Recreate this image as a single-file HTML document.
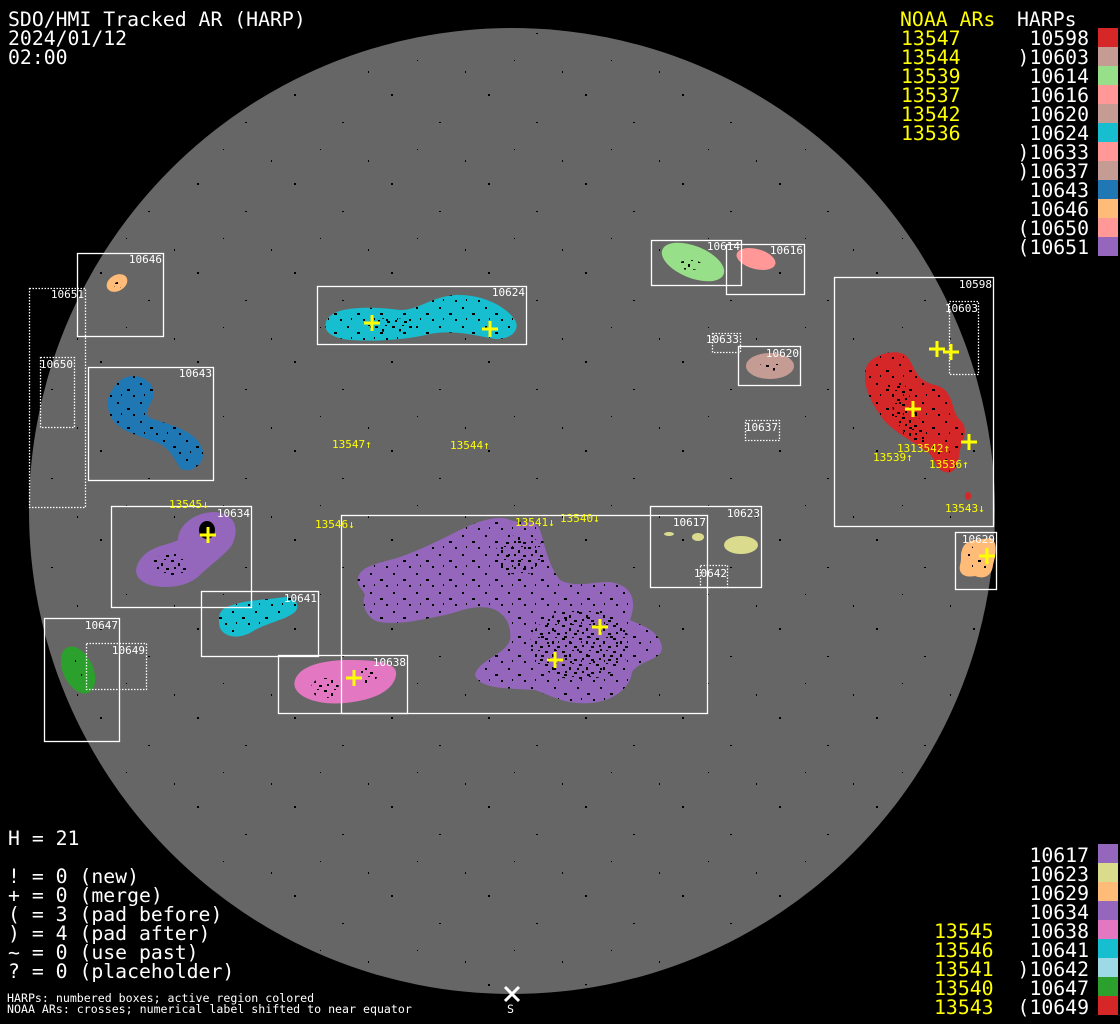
<!DOCTYPE html>
<html><head><meta charset="utf-8"><style>
html,body{margin:0;padding:0;background:#000;}
body{width:1120px;height:1024px;overflow:hidden;position:relative;}
svg{position:absolute;left:0;top:0;}
text{font-family:"DejaVu Sans Mono","Liberation Mono",monospace;}
</style></head><body>
<svg width="1120" height="1024" viewBox="0 0 1120 1024" xmlns="http://www.w3.org/2000/svg">
<defs>
<pattern id="sp" width="97" height="89" patternUnits="userSpaceOnUse">
<rect x="3" y="5" width="2" height="2" fill="#000"/><rect x="51" y="33" width="2" height="1" fill="#000"/><rect x="77" y="71" width="1" height="2" fill="#000"/><rect x="29" y="60" width="1" height="1" fill="#000"/>
</pattern>
<pattern id="dn" width="17" height="13" patternUnits="userSpaceOnUse">
<rect x="1" y="1" width="3" height="2" fill="#000"/><rect x="8" y="4" width="2" height="3" fill="#000"/><rect x="13" y="9" width="3" height="2" fill="#000"/><rect x="4" y="8" width="2" height="2" fill="#000"/><rect x="11" y="0" width="2" height="1" fill="#000"/>
</pattern>
<pattern id="md" width="23" height="19" patternUnits="userSpaceOnUse">
<rect x="2" y="3" width="2" height="2" fill="#000"/><rect x="12" y="9" width="3" height="2" fill="#000"/><rect x="18" y="15" width="2" height="2" fill="#000"/><rect x="6" y="14" width="1" height="2" fill="#000"/>
</pattern>
</defs>
<rect width="1120" height="1024" fill="#000"/>
<circle cx="512" cy="511" r="483" fill="#666"/>
<circle cx="512" cy="511" r="480" fill="url(#sp)"/>

<!-- blobs -->
<ellipse cx="117" cy="283" rx="11" ry="8" transform="rotate(-30 117 283)" fill="#ffbb78"/>
<path d="M115,386 C125,370 150,375 153,390 C156,405 140,410 150,418 C170,425 195,430 202,448 C208,465 188,475 180,468 C172,455 168,445 150,440 C130,433 115,428 110,415 C105,402 108,395 115,386Z" fill="#1f77b4"/>
<path d="M326,322 C330,308 360,305 400,310 C420,310 430,297 455,295 C480,294 505,305 515,320 C522,333 505,342 490,338 C470,334 450,330 430,334 C410,339 380,342 350,340 C332,338 323,332 326,322Z" fill="#17becf"/>
<ellipse cx="693" cy="262" rx="33" ry="16" transform="rotate(22 693 262)" fill="#98df8a"/>
<ellipse cx="756" cy="259" rx="20" ry="10" transform="rotate(15 756 259)" fill="#ff9896"/>
<ellipse cx="770" cy="366" rx="24" ry="13" fill="#c49c94"/>
<path d="M866,368 C870,355 895,348 905,355 C915,362 912,380 935,385 C955,390 950,410 960,420 C970,430 962,440 960,450 C958,465 955,475 945,472 C935,470 935,455 925,450 C910,440 890,430 880,415 C870,400 862,385 866,368Z" fill="#d62728"/>
<ellipse cx="968" cy="496" rx="3" ry="4" fill="#d62728"/>
<path d="M962,550 C965,538 980,540 990,538 C998,540 996,555 993,565 C992,575 985,580 975,576 C965,578 958,574 960,565 C962,558 960,555 962,550Z" fill="#ffbb78"/>
<path d="M140,560 C150,545 170,545 178,540 C178,525 195,512 215,512 C235,514 240,528 232,545 C225,555 210,565 200,575 C190,585 170,590 150,585 C135,580 133,570 140,560Z" fill="#9467bd"/>
<path d="M225,608 C240,600 265,600 285,597 C295,597 301,605 295,612 C285,620 270,622 255,630 C240,640 225,638 220,628 C218,620 218,612 225,608Z" fill="#17becf"/>
<ellipse cx="78" cy="670" rx="15" ry="25" transform="rotate(-25 78 670)" fill="#2ca02c"/>
<path d="M295,680 C300,665 325,660 350,660 C375,660 398,662 396,675 C394,690 375,700 345,703 C315,706 290,695 295,680Z" fill="#e377c2"/>
<path d="M358,578 C360,565 385,562 400,557 C420,550 440,540 460,530 C480,520 500,515 510,520 C525,525 535,518 540,530 C545,545 548,565 560,580 C575,588 590,582 610,582 C630,585 638,598 630,620 C640,625 660,630 662,648 C662,660 640,660 632,672 C630,690 610,702 590,703 C565,705 550,695 535,690 C510,688 480,690 475,675 C478,660 505,655 510,640 C512,625 505,612 490,608 C470,605 460,612 445,615 C420,620 400,625 380,622 C368,620 360,605 365,595 C362,588 356,585 358,578Z" fill="#9467bd"/>
<ellipse cx="741" cy="545" rx="17" ry="9" fill="#dbdb8d"/>
<ellipse cx="669" cy="534" rx="5" ry="2" fill="#dbdb8d"/>
<ellipse cx="698" cy="537" rx="6" ry="4" fill="#dbdb8d"/>

<!-- speckled magnetic structure -->
<ellipse cx="118" cy="285" rx="4" ry="3" fill="url(#dn)"/>
<path d="M115,386 C125,370 150,375 153,390 C156,405 140,410 150,418 C170,425 195,430 202,448 C208,465 188,475 180,468 C172,455 168,445 150,440 C130,433 115,428 110,415 C105,402 108,395 115,386Z" fill="url(#md)"/>
<path d="M326,322 C330,308 360,305 400,310 C420,310 430,297 455,295 C480,294 505,305 515,320 C522,333 505,342 490,338 C470,334 450,330 430,334 C410,339 380,342 350,340 C332,338 323,332 326,322Z" fill="url(#md)"/>
<ellipse cx="390" cy="325" rx="25" ry="7" fill="url(#dn)"/>
<ellipse cx="690" cy="265" rx="12" ry="5" fill="url(#dn)"/>
<ellipse cx="770" cy="366" rx="10" ry="5" fill="url(#dn)"/>
<path d="M866,368 C870,355 895,348 905,355 C915,362 912,380 935,385 C955,390 950,410 960,420 C970,430 962,440 960,450 C958,465 955,475 945,472 C935,470 935,455 925,450 C910,440 890,430 880,415 C870,400 862,385 866,368Z" fill="url(#md)"/>
<path d="M888,385 L905,385 L920,420 L925,440 L910,440 L895,420Z" fill="url(#dn)"/>
<ellipse cx="976" cy="560" rx="12" ry="14" fill="url(#md)"/>
<ellipse cx="207" cy="530" rx="8" ry="9" fill="#000"/>
<ellipse cx="170" cy="565" rx="18" ry="12" fill="url(#dn)"/>
<path d="M225,608 C240,600 265,600 285,597 C295,597 301,605 295,612 C285,620 270,622 255,630 C240,640 225,638 220,628 C218,620 218,612 225,608Z" fill="url(#md)"/>
<ellipse cx="325" cy="688" rx="14" ry="10" fill="url(#dn)"/>
<ellipse cx="367" cy="676" rx="10" ry="8" fill="url(#dn)"/>
<ellipse cx="78" cy="668" rx="5" ry="12" fill="url(#md)"/>
<path d="M358,578 C360,565 385,562 400,557 C420,550 440,540 460,530 C480,520 500,515 510,520 C525,525 535,518 540,530 C545,545 548,565 560,580 C575,588 590,582 610,582 C630,585 638,598 630,620 C640,625 660,630 662,648 C662,660 640,660 632,672 C630,690 610,702 590,703 C565,705 550,695 535,690 C510,688 480,690 475,675 C478,660 505,655 510,640 C512,625 505,612 490,608 C470,605 460,612 445,615 C420,620 400,625 380,622 C368,620 360,605 365,595 C362,588 356,585 358,578Z" fill="url(#md)"/>
<ellipse cx="580" cy="645" rx="50" ry="35" fill="url(#dn)"/>
<ellipse cx="520" cy="555" rx="25" ry="20" fill="url(#dn)"/>

<!-- boxes -->
<g fill="none" stroke="#fff" stroke-width="1.3">
<rect x="77.5" y="253.5" width="86" height="83"/>
<rect x="88.5" y="367.5" width="125" height="113"/>
<rect x="317.5" y="286.5" width="209" height="58"/>
<rect x="651.5" y="240.5" width="90" height="45"/>
<rect x="726.5" y="244.5" width="78" height="50"/>
<rect x="738.5" y="346.5" width="62" height="39"/>
<rect x="834.5" y="277.5" width="159" height="249"/>
<rect x="955.5" y="532.5" width="41" height="57"/>
<rect x="111.5" y="506.5" width="140" height="101"/>
<rect x="201.5" y="591.5" width="117" height="65"/>
<rect x="44.5" y="618.5" width="75" height="123"/>
<rect x="278.5" y="655.5" width="129" height="58"/>
<rect x="341.5" y="515.5" width="366" height="198"/>
<rect x="650.5" y="506.5" width="111" height="81"/>
</g>
<g fill="none" stroke="#fff" stroke-width="1.3" stroke-dasharray="1.5 1.5">
<rect x="29.5" y="288.5" width="56" height="219"/>
<rect x="40.5" y="357.5" width="34" height="70"/>
<rect x="712.5" y="333.5" width="28" height="19"/>
<rect x="745.5" y="420.5" width="34" height="20"/>
<rect x="949.5" y="301.5" width="29" height="73"/>
<rect x="86.5" y="643.5" width="60" height="46"/>
<rect x="700.5" y="565.5" width="27" height="22"/>
</g>

<!-- box labels -->
<g fill="#fff" font-size="11" text-anchor="end">
<text x="162" y="263">10646</text>
<text x="84" y="298">10651</text>
<text x="73" y="368">10650</text>
<text x="212" y="377">10643</text>
<text x="525" y="296">10624</text>
<text x="740" y="250">10614</text>
<text x="803" y="254">10616</text>
<text x="739" y="343">10633</text>
<text x="799" y="357">10620</text>
<text x="778" y="431">10637</text>
<text x="992" y="288">10598</text>
<text x="978" y="312">10603</text>
<text x="995" y="543">10629</text>
<text x="250" y="517">10634</text>
<text x="317" y="602">10641</text>
<text x="118" y="629">10647</text>
<text x="145" y="654">10649</text>
<text x="406" y="666">10638</text>
<text x="706" y="526">10617</text>
<text x="760" y="517">10623</text>
<text x="727" y="577">10642</text>
</g>

<!-- crosses -->
<g stroke="#ff0" stroke-width="3">
<path d="M364,323h16M372,315v16"/>
<path d="M482,329h16M490,321v16"/>
<path d="M200,535h16M208,527v16"/>
<path d="M346,678h16M354,670v16"/>
<path d="M547,660h16M555,652v16"/>
<path d="M592,627h16M600,619v16"/>
<path d="M929,349h16M937,341v16"/>
<path d="M943,352h16M951,344v16"/>
<path d="M905,409h16M913,401v16"/>
<path d="M961,442h16M969,434v16"/>
<path d="M979,556h16M987,548v16"/>
</g>

<!-- NOAA labels -->
<g fill="#ff0" font-size="11">
<text x="332" y="448">13547↑</text>
<text x="450" y="449">13544↑</text>
<text x="169" y="508">13545↓</text>
<text x="315" y="528">13546↓</text>
<text x="515" y="526">13541↓</text>
<text x="560" y="522">13540↓</text>
<text x="897" y="452">1313542↑</text>
<text x="873" y="461">13539↑</text>
<text x="929" y="468">13536↑</text>
<text x="945" y="512">13543↓</text>
</g>

<!-- header -->
<g fill="#fff" font-size="19.8">
<text x="8" y="26">SDO/HMI Tracked AR (HARP)</text>
<text x="8" y="45">2024/01/12</text>
<text x="8" y="64">02:00</text>
<text x="8" y="845">H = 21</text>
<text x="8" y="883">! = 0 (new)</text>
<text x="8" y="902">+ = 0 (merge)</text>
<text x="8" y="921">( = 3 (pad before)</text>
<text x="8" y="940">) = 4 (pad after)</text>
<text x="8" y="959">~ = 0 (use past)</text>
<text x="8" y="978">? = 0 (placeholder)</text>
</g>
<g fill="#fff" font-size="11.6">
<text x="7" y="1002">HARPs: numbered boxes; active region colored</text>
<text x="7" y="1013">NOAA ARs: crosses; numerical label shifted to near equator</text>
<text x="507" y="1013">S</text>
</g>
<path d="M505,987l14,14M519,987l-14,14" stroke="#fff" stroke-width="3"/>

<!-- right legend -->
<g font-size="19.8">
<text x="900" y="26" fill="#ff0">NOAA ARs</text>
<text x="1017" y="26" fill="#fff">HARPs</text>
<g fill="#ff0">
<text x="901" y="45">13547</text><text x="901" y="64">13544</text><text x="901" y="83">13539</text><text x="901" y="102">13537</text><text x="901" y="121">13542</text><text x="901" y="140">13536</text>
</g>
<g fill="#fff" text-anchor="end">
<text x="1089" y="45">10598</text><text x="1089" y="64">)10603</text><text x="1089" y="83">10614</text><text x="1089" y="102">10616</text><text x="1089" y="121">10620</text><text x="1089" y="140">10624</text><text x="1089" y="159">)10633</text><text x="1089" y="178">)10637</text><text x="1089" y="197">10643</text><text x="1089" y="216">10646</text><text x="1089" y="235">(10650</text><text x="1089" y="254">(10651</text>
</g>
<g fill="#fff" text-anchor="end">
<text x="1089" y="862">10617</text><text x="1089" y="881">10623</text><text x="1089" y="900">10629</text><text x="1089" y="919">10634</text><text x="1089" y="938">10638</text><text x="1089" y="957">10641</text><text x="1089" y="976">)10642</text><text x="1089" y="995">10647</text><text x="1089" y="1014">(10649</text>
</g>
<g fill="#ff0">
<text x="934" y="938">13545</text><text x="934" y="957">13546</text><text x="934" y="976">13541</text><text x="934" y="995">13540</text><text x="934" y="1014">13543</text>
</g>
</g>
<g>
<rect x="1098" y="28" width="20" height="19" fill="#d62728"/>
<rect x="1098" y="47" width="20" height="19" fill="#c49c94"/>
<rect x="1098" y="66" width="20" height="19" fill="#98df8a"/>
<rect x="1098" y="85" width="20" height="19" fill="#ff9896"/>
<rect x="1098" y="104" width="20" height="19" fill="#c49c94"/>
<rect x="1098" y="123" width="20" height="19" fill="#17becf"/>
<rect x="1098" y="142" width="20" height="19" fill="#ff9896"/>
<rect x="1098" y="161" width="20" height="19" fill="#c49c94"/>
<rect x="1098" y="180" width="20" height="19" fill="#1f77b4"/>
<rect x="1098" y="199" width="20" height="19" fill="#ffbb78"/>
<rect x="1098" y="218" width="20" height="19" fill="#ff9896"/>
<rect x="1098" y="237" width="20" height="19" fill="#9467bd"/>
<rect x="1098" y="844" width="20" height="19" fill="#9467bd"/>
<rect x="1098" y="863" width="20" height="19" fill="#dbdb8d"/>
<rect x="1098" y="882" width="20" height="19" fill="#ffbb78"/>
<rect x="1098" y="901" width="20" height="19" fill="#9467bd"/>
<rect x="1098" y="920" width="20" height="19" fill="#e377c2"/>
<rect x="1098" y="939" width="20" height="19" fill="#17becf"/>
<rect x="1098" y="958" width="20" height="19" fill="#9edae5"/>
<rect x="1098" y="977" width="20" height="19" fill="#2ca02c"/>
<rect x="1098" y="996" width="20" height="19" fill="#d62728"/>
</g>
</svg>
</body></html>
